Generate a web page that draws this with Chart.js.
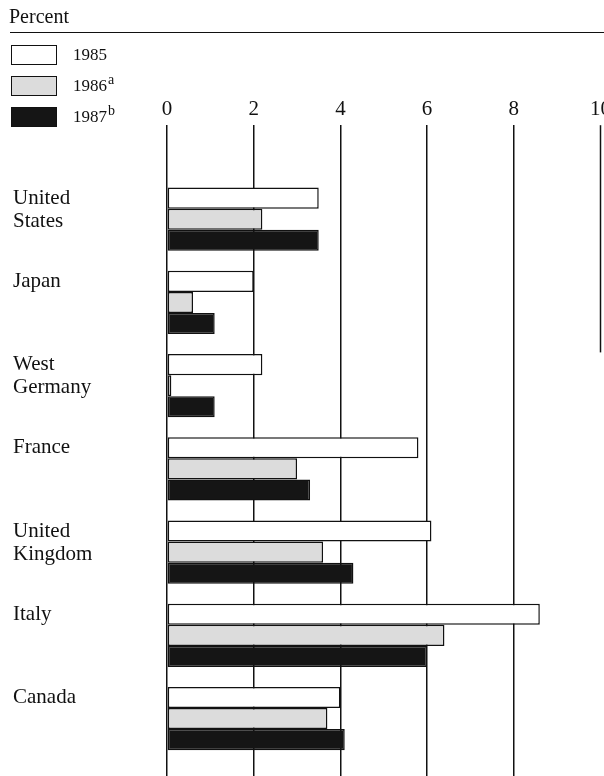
<!DOCTYPE html>
<html>
<head>
<meta charset="utf-8">
<script src="https://cdn.jsdelivr.net/npm/chart.js@4"></script>
<style>
  body { margin: 0; background: #fff; }
  #page { position: relative; width: 604px; height: 776px; overflow: hidden; font-family: "Liberation Serif", serif; color: #111; }
  #wrap { position: absolute; left: 0; top: 0; width: 614px; height: 776px; }
  .title { position: absolute; left: 9px; top: 5px; font-size: 20px; }
  .rule { position: absolute; left: 10px; right: 0; top: 32px; height: 0; border-top: 1.5px solid #111; }
  .box { position: absolute; left: 11px; width: 44px; height: 18px; border: 1.5px solid #111; }
  .lab { position: absolute; left: 73px; font-size: 17px; line-height: 20px; }
  .lab sup { font-size: 14px; vertical-align: 7px; line-height: 0; margin-left: 1px; }
</style>
</head>
<body>
<div id="page">
  <div id="wrap"><canvas id="bars" width="614" height="776"></canvas></div>
  <div class="title">Percent</div>
  <div class="rule"></div>
  <div id="legend"></div>
</div>
<script>
var countries = [['United', 'States'], ['Japan'], ['West', 'Germany'], ['France'], ['United', 'Kingdom'], ['Italy'], ['Canada']];
var years = ['1985', '1986', '1987'];
var notes = ['', 'a', 'b'];
var v1985 = [3.5, 2.0, 2.2, 5.8, 6.1, 8.6, 4.0];
var v1986 = [2.2, 0.6, 0.1, 3.0, 3.6, 6.4, 3.7];
var v1987 = [3.5, 1.1, 1.1, 3.3, 4.3, 6.0, 4.1];
var xTicks = [0, 2, 4, 6, 8, 10];

var fills = ['#ffffff', '#dcdcdc', '#151515'];

// legend (html, stacked top-left like the print)
var legend = document.getElementById('legend');
years.forEach(function (y, i) {
    var top = 45 + i * 31;
    var b = document.createElement('div');
    b.className = 'box';
    b.style.top = top + 'px';
    b.style.background = fills[i];
    legend.appendChild(b);
    var l = document.createElement('div');
    l.className = 'lab';
    l.style.top = top + 'px';
    l.innerHTML = y + (notes[i] ? '<sup>' + notes[i] + '</sup>' : '');
    legend.appendChild(l);
});

function points(vals) {
    return vals.map(function (v, i) { return { x: v, y: i }; });
}

var countryLabels = {
    id: 'countryLabels',
    afterDraw: function (chart) {
        var ctx = chart.ctx;
        var meta = chart.getDatasetMeta(0);
        ctx.save();
        ctx.font = '21px "Liberation Serif"';
        ctx.fillStyle = '#111';
        ctx.textBaseline = 'middle';
        countries.forEach(function (lines, i) {
            var y0 = meta.data[i].y;
            lines.forEach(function (t, j) {
                ctx.fillText(t, 13, y0 + j * 23);
            });
        });
        // the 10 rule stops part way down in the original
        var xs = chart.scales.x, ys = chart.scales.y;
        var x10 = xs.getPixelForValue(10);
        ctx.strokeStyle = '#111';
        ctx.lineWidth = 1.5;
        ctx.beginPath();
        ctx.moveTo(x10, chart.chartArea.top);
        ctx.lineTo(x10, ys.getPixelForValue(1.6));
        ctx.stroke();
        ctx.restore();
    }
};

var ctx = document.getElementById('bars').getContext('2d');
var myChart = new Chart(ctx, {
    type: 'bar',
    data: {
        datasets: [{
            label: '1985',
            data: points(v1985),
            backgroundColor: fills[0],
            borderColor: '#111',
            borderWidth: 1.5,
            borderSkipped: false
        }, {
            label: '1986',
            data: points(v1986),
            backgroundColor: fills[1],
            borderColor: '#111',
            borderWidth: 1.5,
            borderSkipped: false
        }, {
            label: '1987',
            data: points(v1987),
            backgroundColor: fills[2],
            borderColor: '#111',
            borderWidth: 1.5,
            borderSkipped: false
        }]
    },
    options: {
        responsive: false,
        animation: false,
        indexAxis: 'y',
        categoryPercentage: 0.76,
        barPercentage: 1.0,
        layout: { padding: { left: 167, top: 94, right: 11, bottom: 0 } },
        plugins: { legend: { display: false }, tooltip: { enabled: false } },
        scales: {
            x: {
                type: 'linear',
                position: 'top',
                min: 0,
                max: 10,
                afterBuildTicks: function (s) {
                    s.ticks = xTicks.map(function (v) { return { value: v }; });
                },
                border: { display: false },
                grid: {
                    drawTicks: false,
                    lineWidth: 1.5,
                    color: function (c) { return c.tick && c.tick.value === 10 ? 'rgba(0,0,0,0)' : '#111'; }
                },
                ticks: {
                    padding: 3,
                    color: '#111',
                    maxRotation: 0,
                    font: { family: 'Liberation Serif', size: 21 }
                }
            },
            y: {
                type: 'linear',
                display: false,
                reverse: true,
                offset: false,
                min: -1.13,
                max: 6.69,
                afterBuildTicks: function (s) {
                    s.ticks = countries.map(function (c, i) { return { value: i }; });
                },
                grid: { display: false, offset: false }
            }
        }
    },
    plugins: [countryLabels]
});
</script>
</body>
</html>
